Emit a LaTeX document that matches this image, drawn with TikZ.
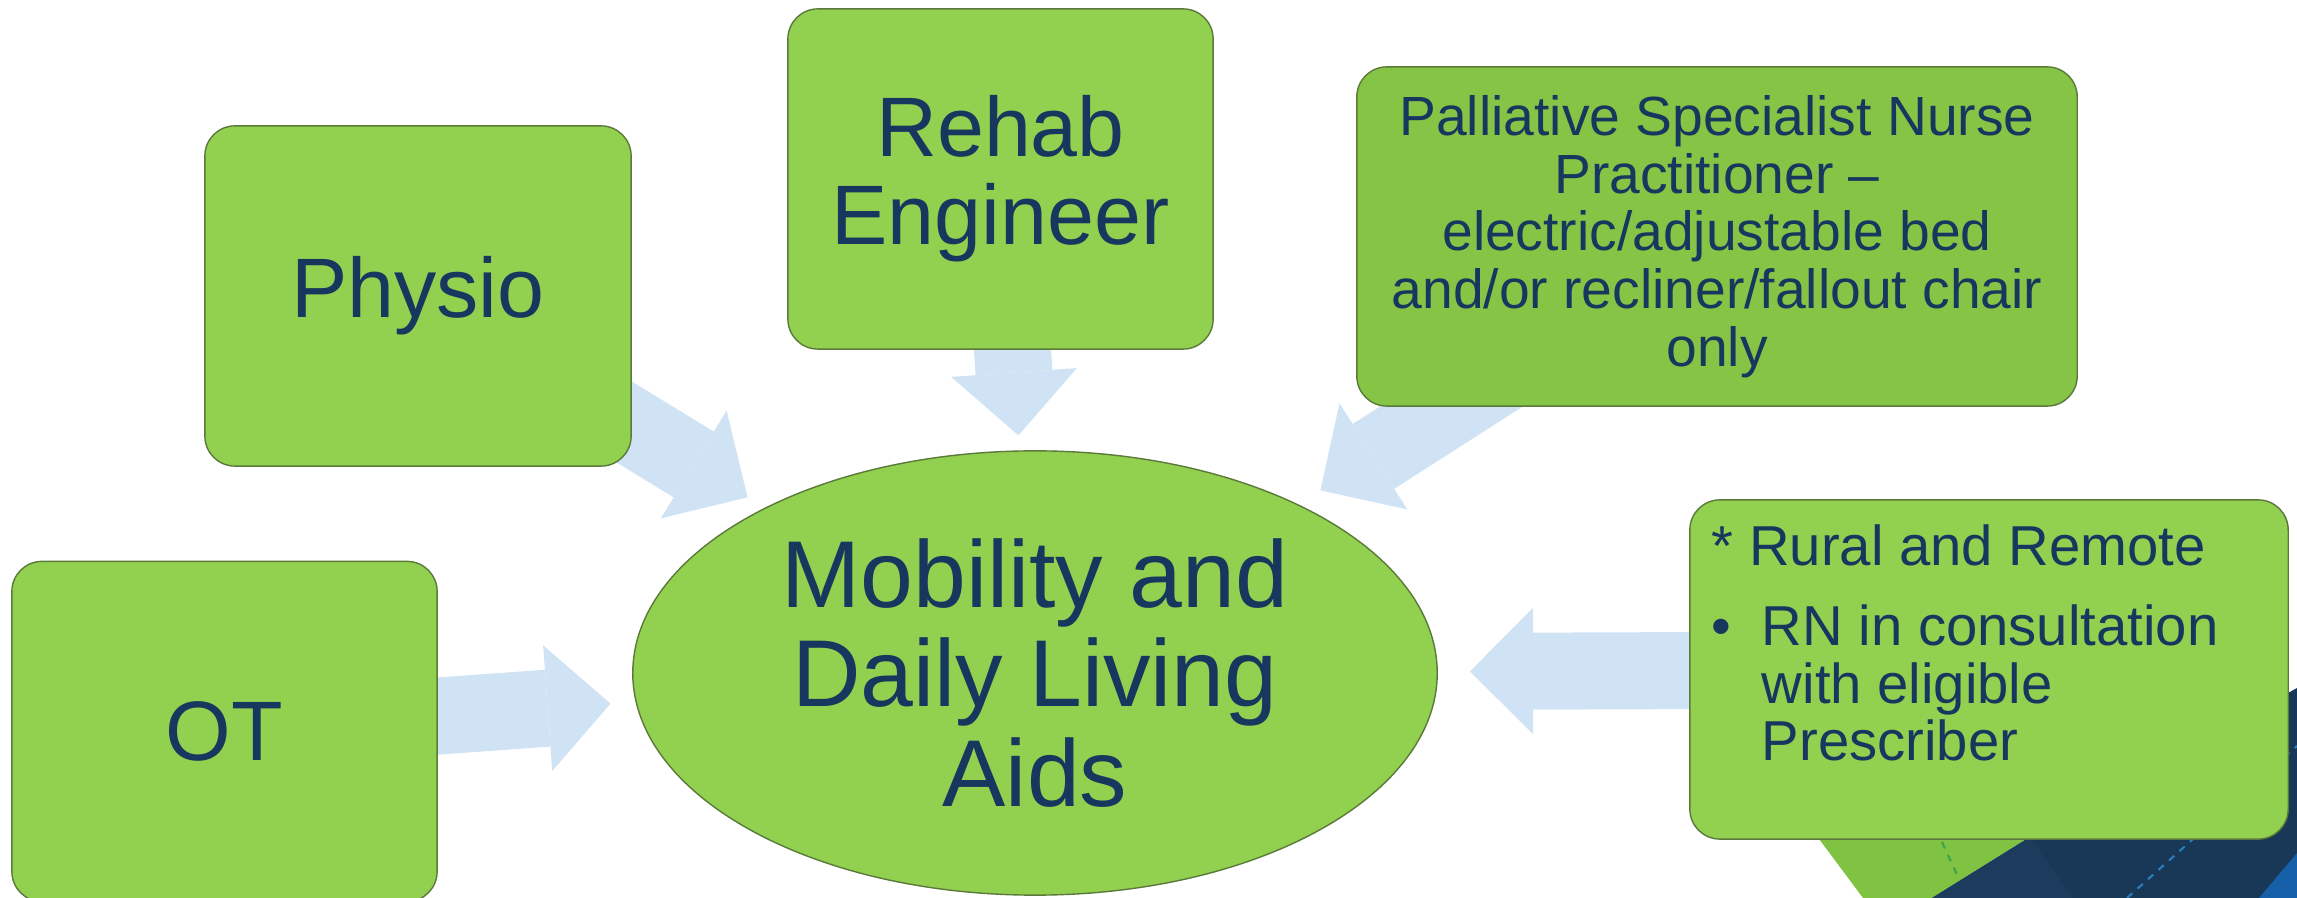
\documentclass[tikz,border=0pt]{standalone}
\usepackage{fontspec}
\setmainfont{Liberation Sans}
\usetikzlibrary{shapes.geometric,arrows.meta}
\definecolor{leafgreen}{HTML}{92D050}
\definecolor{mossgreen}{HTML}{86C446}
\definecolor{rimgreen}{HTML}{5B7A3A}
\definecolor{inkblue}{HTML}{17375E}
\definecolor{skyblue}{HTML}{CFE3F5}
\definecolor{decogreen}{HTML}{80C242}
\definecolor{deconavy}{HTML}{193757}
\definecolor{deconavylight}{HTML}{1C3B5D}
\definecolor{decoblue}{HTML}{1560A8}
\definecolor{dashgreen}{HTML}{3FA34D}
\definecolor{dashblue}{HTML}{2C7DBE}
\pgfdeclarelayer{back}
\pgfsetlayers{back,main}

\begin{document}
\begin{tikzpicture}
  [x=0.01cm,y=-0.01cm,
   every node/.style={text=inkblue,align=center,inner sep=0pt},
   card/.style={rectangle,rounded corners=0.3cm,draw=rimgreen,line width=0.4pt,fill=leafgreen},
   hubshape/.style={ellipse,draw=rimgreen,line width=0.4pt,fill=leafgreen,minimum width=8.04cm,minimum height=4.44cm},
   flow/.style={draw=skyblue,line width=0.77cm,-{Triangle[width=1.26cm,length=0.63cm,line width=0pt 0 0]}}]
  \useasboundingbox (0,0) rectangle (2297,898);
  \clip (0,0) rectangle (2297,898);

  \fill[decogreen] (1790,800) -- (2089,800) -- (1932,898) -- (1863,898) -- cycle;
  \fill[deconavy] (1932,898) -- (2030,837) -- (2297,688) -- (2297,898) -- cycle;
  \fill[deconavylight] (1932,898) -- (2030,837) -- (2073,898) -- cycle;
  \fill[decoblue] (2259,898) -- (2297,853) -- (2297,898) -- cycle;
  \draw[dashgreen,line width=0.6pt,dash pattern=on 2pt off 2pt] (1942,842) -- (1958,877);
  \draw[dashblue,line width=0.6pt,dash pattern=on 2pt off 2pt] (2127,898) -- (2297,746);

  \node[card,minimum width=4.25cm,minimum height=3.4cm,font=\fontsize{24}{25}\selectfont] (rehab) at (1000.5,179) {Rehab\\Engineer};
  \node[card,minimum width=4.26cm,minimum height=3.4cm,font=\fontsize{24}{25}\selectfont] (physio) at (418,296) {Physio};
  \node[card,minimum width=4.25cm,minimum height=3.4cm,font=\fontsize{24}{25}\selectfont] (ot) at (224.5,731.5) {OT};
  \node[card,fill=mossgreen,minimum width=7.2cm,minimum height=3.39cm,font=\fontsize{15.7}{16.4}\selectfont] (palliative) at (1717,236.5)
    {Palliative Specialist Nurse\\Practitioner –\\electric/adjustable bed\\and/or recliner/fallout chair\\only};
  \node[hubshape,font=\fontsize{27}{28.3}\selectfont] (hub) at (1035,673) {Mobility and\\Daily Living\\Aids};
  \node[card,align=left,inner xsep=0.22cm,font=\fontsize{16}{16.4}\selectfont] (rural) at (1989,669.5)
    {\parbox[c][3.39cm][t]{5.54cm}{\vspace*{0.25cm}* Rural and Remote\par
     \vspace{0.22cm}\hangindent=0.5cm\makebox[0.5cm][l]{•}RN in consultation\\with eligible\\Prescriber}};

  \begin{pgfonlayer}{back}
    \foreach \from/\gap in {rehab/0.15cm,physio/0.2cm,palliative/0.26cm,ot/0.25cm,rural/0.32cm}
      \draw[flow,shorten >=\gap] (\from.center) -- (hub);
  \end{pgfonlayer}
\end{tikzpicture}
\end{document}
